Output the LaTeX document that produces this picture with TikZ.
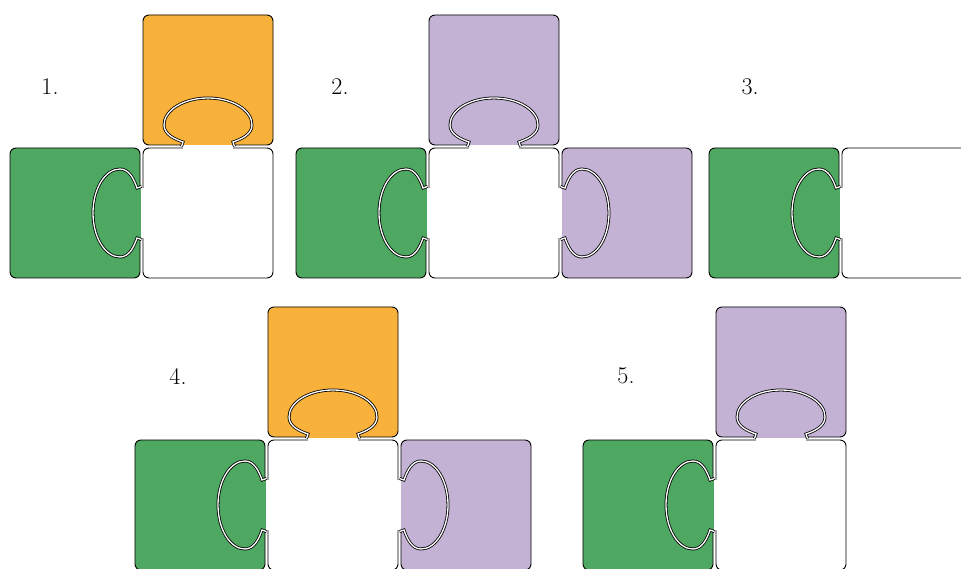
\documentclass[tikz,border=0pt]{standalone}
\usetikzlibrary{positioning}

\definecolor{tileorange}{RGB}{248,178,60}
\definecolor{tilegreen}{RGB}{78,168,98}
\definecolor{tilepurple}{RGB}{196,178,213}

\tikzset{
	piece/.style={draw=black,line width=0.9pt,rounded corners=6pt,minimum size=130pt,inner sep=0pt,outer sep=0pt},
	tabline/.style={draw=black,line width=0.8pt,double=white,double distance=1.3pt},
	numlabel/.style={font=\fontsize{24}{26}\selectfont}
}

% the knob of the white piece, white edge at v=0, pointing to +v
\newcommand{\tabcurve}{(-26.5,1.5) -- (-25,6)
	.. controls (-34,9) and (-44,14) .. (-44,23)
	.. controls (-44,38) and (-24,50) .. (0,50)
	.. controls (24,50) and (44,38) .. (44,23)
	.. controls (44,14) and (34,9) .. (25,6) -- (26.5,1.5)}
\newcommand{\puzzletab}[3]{%
	\begin{scope}[shift={(#1)},rotate=#2]
	\fill[#3] \tabcurve -- cycle;
	\fill[white] (-25,-1) rectangle (25,2.5);
	\draw[tabline] \tabcurve;
	\end{scope}}

\begin{document}
\begin{tikzpicture}[x=1pt,y=1pt]
	\useasboundingbox (0,0) rectangle (961,568);
	\clip (0,0) rectangle (961,568);
	
	% panel 1
	\node[piece,fill=white] (w1) at (208,355) {};
	\node[piece,fill=tileorange,above=3pt of w1] (t1) {};
	\node[piece,fill=tilegreen,left=3pt of w1] (g1) {};
	\node[numlabel] (n1) at (50,481) {1.};
	\puzzletab{w1.north}{0}{tileorange}
	\puzzletab{w1.west}{90}{tilegreen}
	
	% panel 2
	\node[piece,fill=white] (w2) at (494,355) {};
	\node[piece,fill=tilepurple,above=3pt of w2] (t2) {};
	\node[piece,fill=tilegreen,left=3pt of w2] (g2) {};
	\node[piece,fill=tilepurple,right=3pt of w2] (r2) {};
	\node[numlabel] (n2) at (340,481) {2.};
	\puzzletab{w2.north}{0}{tilepurple}
	\puzzletab{w2.west}{90}{tilegreen}
	\puzzletab{w2.east}{-90}{tilepurple}
	
	% panel 3
	\node[piece,fill=white] (w3) at (907,355) {};
	\node[piece,fill=tilegreen,left=3pt of w3] (g3) {};
	\node[numlabel] (n3) at (750,481) {3.};
	\puzzletab{w3.west}{90}{tilegreen}
	
	% panel 4
	\node[piece,fill=white] (w4) at (333,63) {};
	\node[piece,fill=tileorange,above=3pt of w4] (t4) {};
	\node[piece,fill=tilegreen,left=3pt of w4] (g4) {};
	\node[piece,fill=tilepurple,right=3pt of w4] (r4) {};
	\node[numlabel] (n4) at (178,192) {4.};
	\puzzletab{w4.north}{0}{tileorange}
	\puzzletab{w4.west}{90}{tilegreen}
	\puzzletab{w4.east}{-90}{tilepurple}
	
	% panel 5
	\node[piece,fill=white] (w5) at (781,63) {};
	\node[piece,fill=tilepurple,above=3pt of w5] (t5) {};
	\node[piece,fill=tilegreen,left=3pt of w5] (g5) {};
	\node[numlabel] (n5) at (626,192) {5.};
	\puzzletab{w5.north}{0}{tilepurple}
	\puzzletab{w5.west}{90}{tilegreen}
\end{tikzpicture}
\end{document}
